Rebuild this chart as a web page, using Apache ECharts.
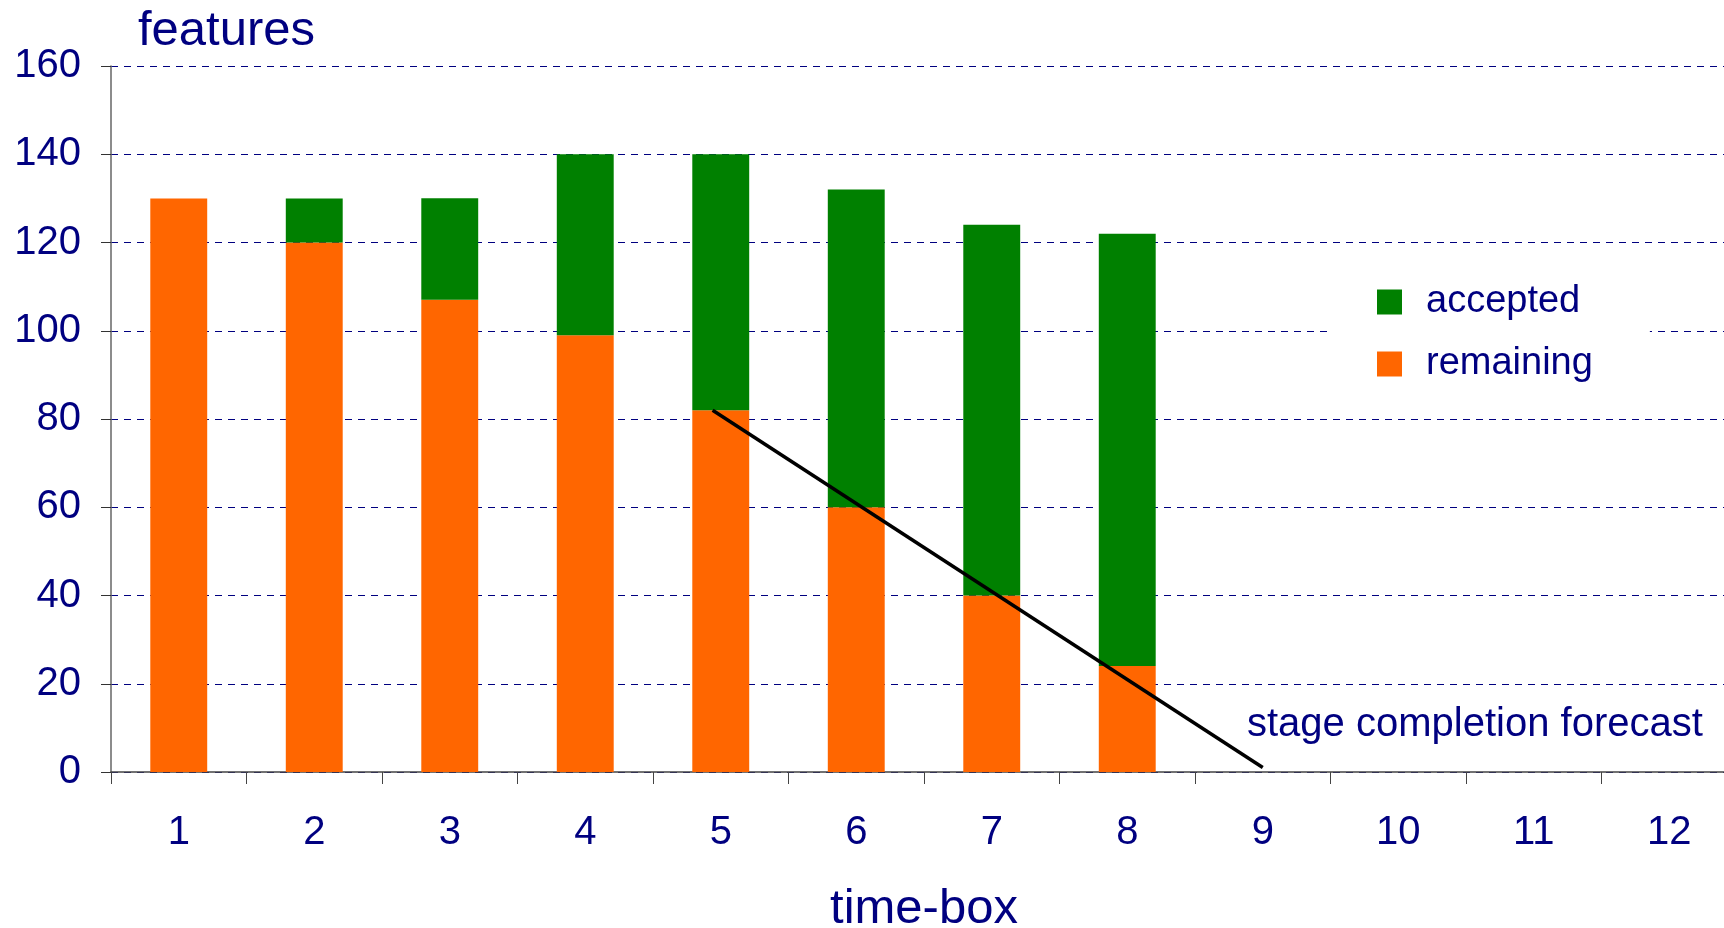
<!DOCTYPE html>
<html>
<head>
<meta charset="utf-8">
<title>Feature burn-down by time-box</title>
<script src="https://cdn.jsdelivr.net/npm/echarts@6/dist/echarts.min.js"></script>
<style>
  html, body { margin: 0; padding: 0; background: #ffffff; }
  #chart { width: 1724px; height: 928px; }
</style>
</head>
<body>
<div id="chart"></div>
<script>
// Time-boxes on the horizontal axis
const timeBoxes = ['1', '2', '3', '4', '5', '6', '7', '8', '9', '10', '11', '12'];
// Features still open at the end of each time-box
const remaining = [130, 120, 107, 99, 82, 60, 40, 24];
// Features accepted so far
const accepted = [0, 10, 23, 41, 58, 72, 84, 98];
// Forecast trend line: time-box positions and remaining features
const forecastX = [4.94, 9];
const forecastY = [82, 1];
// Vertical scale
const yTicks = { min: 0, max: 160, step: 20 };

const NAVY = '#000080';
const FONT = '"Liberation Sans", Arial, sans-serif';

const chart = echarts.init(document.getElementById('chart'), null, { renderer: 'canvas' });

chart.setOption({
  backgroundColor: '#ffffff',
  animation: false,
  textStyle: { fontFamily: FONT, color: NAVY },
  grid: { left: 111, right: -13, top: 66, bottom: 156, containLabel: false, outerBoundsMode: 'none' },
  legend: {
    orient: 'vertical',
    left: 1327,
    top: 253,
    padding: [30, 57, 30, 50],
    backgroundColor: '#ffffff',
    itemWidth: 25,
    itemHeight: 25,
    itemGap: 24,
    icon: 'rect',
    data: ['accepted', 'remaining'],
    textStyle: { fontSize: 38, color: NAVY, fontFamily: FONT, padding: [0, 0, 0, 19] }
  },
  xAxis: [
    {
      type: 'category',
      data: timeBoxes,
      boundaryGap: true,
      name: 'time-box',
      nameLocation: 'middle',
      nameGap: 113,
      nameTextStyle: { fontSize: 49, color: NAVY, fontFamily: FONT },
      axisLine: { show: true, lineStyle: { color: '#444444', width: 1.5 } },
      axisTick: { show: true, length: 12, lineStyle: { color: '#444444', width: 1 } },
      axisLabel: { fontSize: 40, color: NAVY, margin: 41, fontFamily: FONT },
      splitLine: { show: false }
    },
    {
      // continuous positions used by the forecast line (centre of box n sits at n)
      type: 'value',
      min: 0.5,
      max: 12.5,
      show: false,
      position: 'bottom'
    }
  ],
  yAxis: {
    type: 'value',
    min: yTicks.min,
    max: yTicks.max,
    interval: yTicks.step,
    name: 'features',
    nameLocation: 'end',
    nameGap: 10,
    nameTextStyle: { fontSize: 49, color: NAVY, fontFamily: FONT, align: 'left', verticalAlign: 'bottom', padding: [0, 0, 0, 27] },
    axisLine: { show: true, lineStyle: { color: '#666666', width: 1.5 } },
    axisTick: { show: true, length: 10, lineStyle: { color: '#333333', width: 1 } },
    axisLabel: { fontSize: 40, color: NAVY, margin: 30, fontFamily: FONT },
    splitLine: { show: true, lineStyle: { color: NAVY, width: 1, type: [7, 6] } }
  },
  series: [
    {
      name: 'remaining',
      type: 'bar',
      stack: 'features',
      xAxisIndex: 0,
      barWidth: '42%',
      itemStyle: { color: '#ff6600' },
      data: remaining
    },
    {
      name: 'accepted',
      type: 'bar',
      stack: 'features',
      xAxisIndex: 0,
      barWidth: '42%',
      itemStyle: { color: '#008000' },
      data: accepted
    },
    {
      name: 'forecast',
      type: 'line',
      xAxisIndex: 1,
      symbol: 'none',
      lineStyle: { color: '#000000', width: 3.5 },
      data: forecastX.map((x, i) => [x, forecastY[i]]),
      z: 5
    }
  ],
  graphic: [
    {
      type: 'text',
      left: 1247,
      top: 705,
      style: {
        text: 'stage completion forecast',
        fontSize: 40,
        fontFamily: FONT,
        fill: NAVY
      }
    }
  ]
});
</script>
</body>
</html>
